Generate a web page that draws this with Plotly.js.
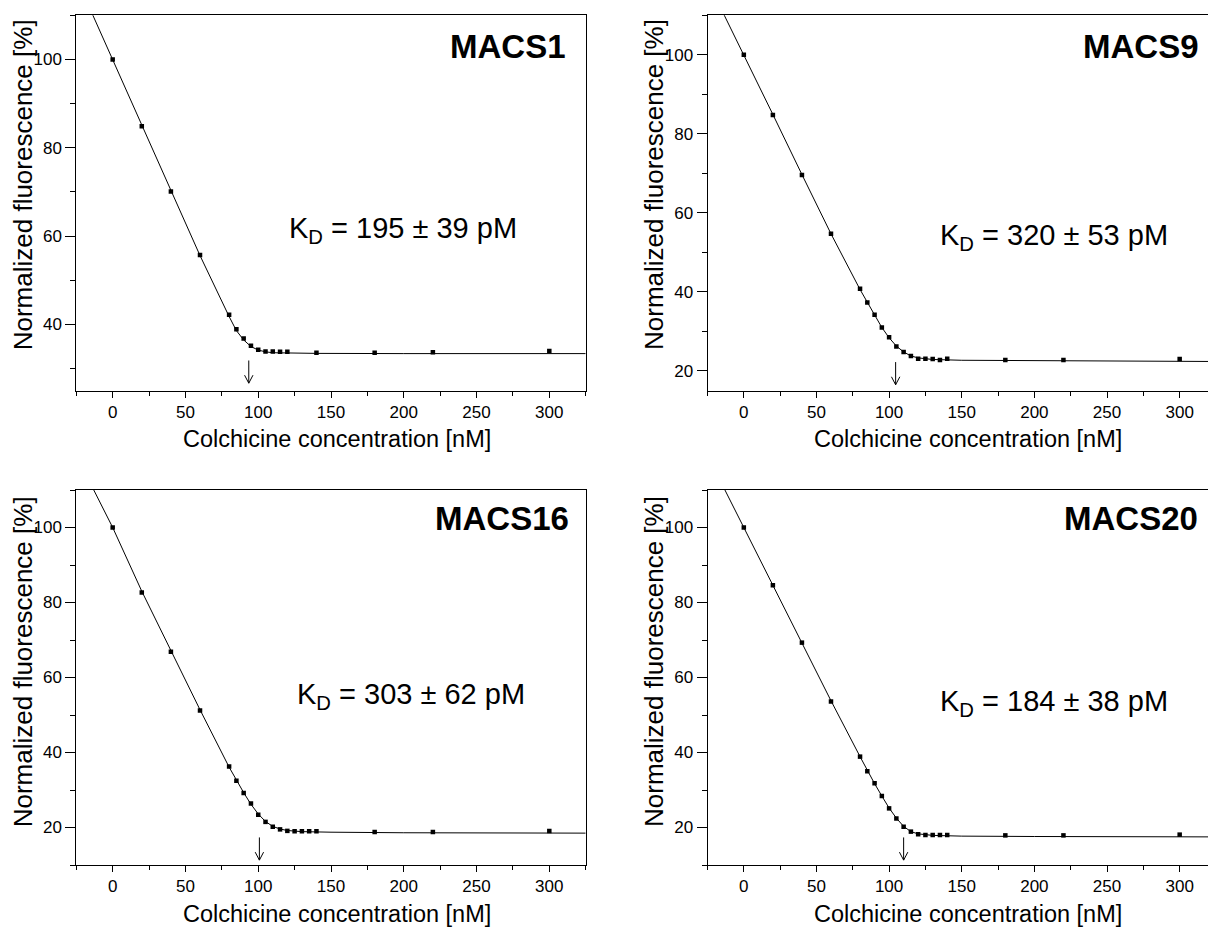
<!DOCTYPE html>
<html>
<head>
<meta charset="utf-8">
<script src="https://cdn.plot.ly/plotly-3.0.1.min.js"></script>
<style>html,body{margin:0;padding:0;background:#fff;}#chart{width:1208px;height:927px;}</style>
</head>
<body>
<div id="chart"></div>
<script>
// ---- data ----
const panelNames = ['MACS1', 'MACS9', 'MACS16', 'MACS20'];
const kdTexts = ['195 ± 39 pM', '320 ± 53 pM', '303 ± 62 pM', '184 ± 38 pM'];

const conc1 = [0, 20, 40, 60, 80, 85, 90, 95, 100, 105, 110, 115, 120, 140, 180, 220, 300];
const fluor1 = [100, 84.9, 70.1, 55.7, 42.2, 38.9, 36.8, 35.2, 34.3, 33.9, 33.9, 33.8, 33.8, 33.6, 33.6, 33.7, 34.0];
const fitX1 = [-14, 0, 20, 40, 60, 80, 85, 90, 95, 100, 105, 110, 120, 140, 200, 325];
const fitY1 = [110.3, 100, 85, 70.3, 55.6, 41.8, 38.6, 36.5, 35.0, 34.2, 33.8, 33.6, 33.5, 33.45, 33.4, 33.4];

const conc2 = [0, 20, 40, 60, 80, 85, 90, 95, 100, 105, 110, 115, 120, 125, 130, 135, 140, 180, 220, 300];
const fluor2 = [100, 84.8, 69.6, 54.7, 40.8, 37.3, 34.2, 31.0, 28.5, 26.2, 24.8, 23.8, 23.1, 23.1, 23.0, 22.8, 23.1, 22.8, 22.8, 23.0];
const fitX2 = [-14.5, 0, 20, 40, 60, 80, 85, 90, 95, 100, 105, 110, 115, 120, 130, 150, 200, 320];
const fitY2 = [110.8, 100, 84.9, 69.7, 54.7, 40.6, 37.3, 34.0, 31.0, 28.4, 26.3, 24.8, 23.8, 23.3, 22.9, 22.7, 22.6, 22.4];

const conc3 = [0, 20, 40, 60, 80, 85, 90, 95, 100, 105, 110, 115, 120, 125, 130, 135, 140, 180, 220, 300];
const fluor3 = [100, 82.7, 66.9, 51.2, 36.3, 32.5, 29.2, 26.4, 23.4, 21.5, 20.2, 19.5, 19.1, 19.0, 19.0, 19.0, 19.0, 18.8, 18.8, 19.1];
const fitX3 = [-13, 0, 20, 40, 60, 80, 85, 90, 95, 100, 105, 110, 115, 120, 130, 150, 200, 325];
const fitY3 = [110, 100, 83.0, 67.1, 51.4, 36.1, 32.6, 29.3, 26.2, 23.6, 21.6, 20.3, 19.6, 19.2, 18.9, 18.75, 18.6, 18.5];

const conc4 = [0, 20, 40, 60, 80, 85, 90, 95, 100, 105, 110, 115, 120, 125, 130, 135, 140, 180, 220, 300];
const fluor4 = [100, 84.6, 69.3, 53.6, 38.9, 35.0, 31.8, 28.4, 25.1, 22.4, 20.2, 18.9, 18.2, 18.0, 18.0, 18.0, 18.0, 17.9, 17.9, 18.1];
const fitX4 = [-13, 0, 20, 40, 60, 80, 85, 90, 95, 100, 105, 110, 115, 120, 130, 150, 200, 320];
const fitY4 = [110, 100, 84.6, 69.3, 53.8, 38.9, 35.1, 31.7, 28.4, 25.2, 22.5, 20.3, 18.9, 18.3, 17.9, 17.7, 17.6, 17.5];

// equivalence-point arrows (x position, arrow tip y)
const arrowX = [93.5, 104.5, 100.8, 110];
const arrowTipY = [26.7, 16.5, 11.3, 11.3];

const xTitle = 'Colchicine concentration [nM]';
const yTitle = 'Normalized fluorescence [%]';

// ---- layout helpers ----
const W = 1208, H = 927;
const F = 'Liberation Sans, Arial, Helvetica, sans-serif';
const px = v => v / W;
const py = v => 1 - v / H;

const concs = [conc1, conc2, conc3, conc4];
const fluors = [fluor1, fluor2, fluor3, fluor4];
const fitXs = [fitX1, fitX2, fitX3, fitX4];
const fitYs = [fitY1, fitY2, fitY3, fitY4];

const xDomains = [[px(76.3), px(585.7)], [px(707.5), 1], [px(76.3), px(585.7)], [px(707.5), 1]];
const yDomains = [[py(390.7), py(15.3)], [py(390.7), py(15.3)], [py(865), py(490)], [py(865), py(490)]];
const xRanges = [[-25, 325], [-25, 319.5], [-25, 325], [-25, 319.5]];
const yRanges = [[25, 110], [15, 110], [10, 110], [10, 110]];

const traces = [];
const layout = {
  width: W, height: H,
  margin: {l: 0, r: 0, t: 0, b: 0, pad: 0},
  paper_bgcolor: '#fff', plot_bgcolor: '#fff',
  showlegend: false,
  font: {family: F, color: '#000'},
  annotations: [],
  shapes: []
};

for (let i = 0; i < 4; i++) {
  const s = i === 0 ? '' : String(i + 1);
  traces.push({
    x: fitXs[i], y: fitYs[i], mode: 'lines', type: 'scatter',
    line: {color: '#000', width: 1}, hoverinfo: 'skip',
    xaxis: 'x' + s, yaxis: 'y' + s
  });
  traces.push({
    x: concs[i], y: fluors[i], mode: 'markers', type: 'scatter',
    marker: {symbol: 'square', size: 4.5, color: '#000'},
    xaxis: 'x' + s, yaxis: 'y' + s
  });
  const isRight = (i % 2) === 1;
  layout['xaxis' + s] = {
    domain: xDomains[i], range: xRanges[i], anchor: 'y' + s,
    showline: true, linecolor: '#000', linewidth: 1, mirror: true,
    ticks: 'outside', ticklen: 6, tickwidth: 1, tickcolor: '#000',
    tick0: 0, dtick: 50,
    minor: {tick0: 0, dtick: 25, ticks: 'outside', ticklen: 4, tickwidth: 1, tickcolor: '#000'},
    showgrid: false, zeroline: false,
    tickfont: {family: F, size: 17, color: '#000'}
  };
  layout['yaxis' + s] = {
    domain: yDomains[i], range: yRanges[i], anchor: 'x' + s,
    showline: true, linecolor: '#000', linewidth: 1, mirror: !isRight,
    ticks: 'outside', ticklen: 10, tickwidth: 1, tickcolor: '#000',
    tick0: 0, dtick: 20,
    minor: {tick0: 0, dtick: 10, ticks: 'outside', ticklen: 5, tickwidth: 1, tickcolor: '#000'},
    showgrid: false, zeroline: false,
    tickfont: {family: F, size: 17, color: '#000'}
  };

  const top = i < 2;
  // panel label
  layout.annotations.push({
    xref: 'paper', yref: 'paper',
    x: px([568, 1201, 571, 1200][i]), y: py(top ? 46.5 : 518.3),
    xanchor: 'right', yanchor: 'middle', showarrow: false,
    text: '<b>' + panelNames[i] + '</b>',
    font: {family: F, size: 33, color: '#000'}
  });
  // KD label
  layout.annotations.push({
    xref: 'paper', yref: 'paper',
    x: px([287, 937.6, 294.6, 937.6][i]), y: py([230, 237, 696, 703][i]),
    xanchor: 'left', yanchor: 'middle', showarrow: false,
    text: 'K<sub>D</sub> = ' + kdTexts[i],
    font: {family: F, size: 29, color: '#000'}
  });
  // axis titles
  layout.annotations.push({
    xref: 'paper', yref: 'paper',
    x: px(isRight ? 654 : 23.3), y: py(top ? 185 : 662),
    xanchor: 'center', yanchor: 'middle', showarrow: false, textangle: -90,
    text: yTitle, font: {family: F, size: 26, color: '#000'}
  });
  layout.annotations.push({
    xref: 'paper', yref: 'paper',
    x: px(isRight ? 967.5 : 337), y: py(top ? 438.7 : 914),
    xanchor: 'center', yanchor: 'middle', showarrow: false,
    text: xTitle, font: {family: F, size: 23.5, color: '#000'}
  });
  // arrow (open chevron head), drawn as a pixel-sized path anchored at the tip
  layout.shapes.push({
    type: 'path', xref: 'x' + s, yref: 'y' + s,
    xsizemode: 'pixel', ysizemode: 'pixel',
    xanchor: arrowX[i], yanchor: arrowTipY[i],
    path: 'M0,0 L0,22.7 M-4.2,8 L0,0 L4.2,8',
    line: {color: '#000', width: 1}
  });
}

Plotly.newPlot('chart', traces, layout, {staticPlot: true, displayModeBar: false});
</script>
</body>
</html>
